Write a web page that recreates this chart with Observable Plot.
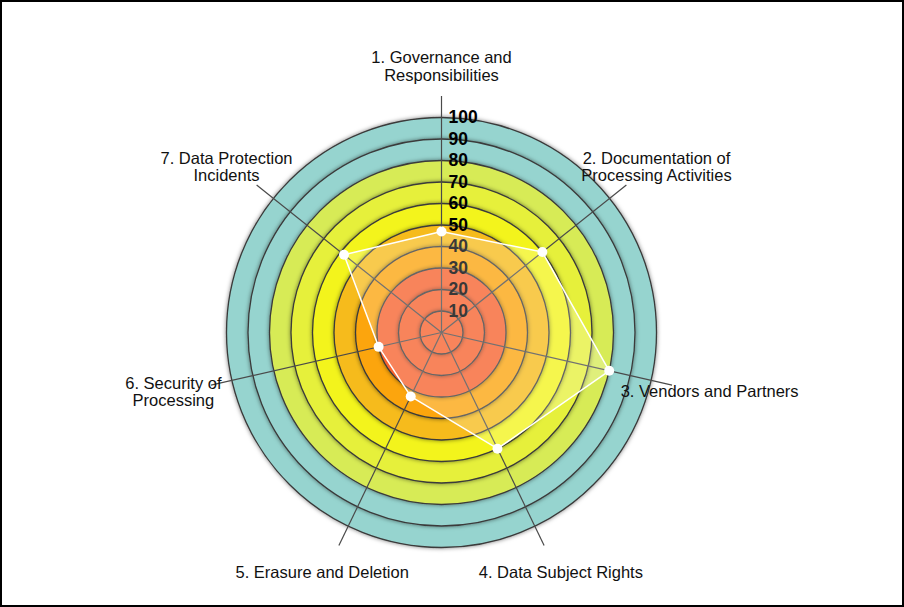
<!DOCTYPE html>
<html><head><meta charset="utf-8">
<script src="https://cdn.jsdelivr.net/npm/d3@7"></script>
<script src="https://cdn.jsdelivr.net/npm/@observablehq/plot@0.6"></script>
<style>
body{margin:0;background:#fff;}
#chart svg{display:block;outline:2px solid #000;outline-offset:-2px;}
</style></head><body><div id="chart"></div>
<script>
const categories = [
  "1. Governance and\nResponsibilities",
  "2. Documentation of\nProcessing Activities",
  "3. Vendors and Partners",
  "4. Data Subject Rights",
  "5. Erasure and Deletion",
  "6. Security of\nProcessing",
  "7. Data Protection\nIncidents"
];
const scores = [47, 60, 80, 60, 33, 30, 58];
const ringTicks = [10, 20, 30, 40, 50, 60, 70, 80, 90, 100];
const ringColors = ["#f7622f", "#f7622f", "#f7622f", "#fca50c", "#f6bb1a", "#f3f41c", "#e6f03a", "#d7eb57", "#96d4cf", "#96d4cf"];
const tickLabels = ["10", "20", "30", "40", "50", "60", "70", "80", "90", "100"];

const W = 904, H = 607, cx = 441, cy = 332, R = 215, maxV = 100;
const k = R / maxV;
const n = categories.length;
const rows = categories.map((name, i) => ({name, value: scores[i], angle: i * 2 * Math.PI / n}));
const rings = ringTicks.map((v, i) => ({v, color: ringColors[i], label: tickLabels[i]}));
const spokeLen = 110;

const svg = Plot.plot({
  width: W, height: H, margin: 0,
  x: {domain: [-cx / k, (W - cx) / k], axis: null},
  y: {domain: [-(H - cy) / k, cy / k], axis: null},
  r: {type: "linear", domain: [0, maxV], range: [0, R]},
  style: {fontFamily: "'Liberation Sans', Arial, sans-serif", background: "white"},
  marks: [
    Plot.dot(rings, {x: () => 0, y: () => 0, r: "v", fill: "color", stroke: "#3a3a3a", strokeWidth: 1.3}),
    Plot.link(rows, {x1: () => 0, y1: () => 0, x2: d => spokeLen * Math.sin(d.angle), y2: d => spokeLen * Math.cos(d.angle), stroke: "#4a4a4a", strokeWidth: 1.2}),
    Plot.text(rings, {x: () => 0, y: "v", text: "label", dx: 7, textAnchor: "start", lineAnchor: "middle", fontWeight: "bold", fontSize: 17.5, fill: "#000"}),
    Plot.line(rows, {x: d => d.value * Math.sin(d.angle), y: d => d.value * Math.cos(d.angle), curve: "linear-closed", fill: "white", fillOpacity: 0.22, stroke: "white", strokeWidth: 1.5}),
    Plot.dot(rows, {x: d => d.value * Math.sin(d.angle), y: d => d.value * Math.cos(d.angle), r: 5, fill: "white", stroke: "none"}),
    Plot.text(rows, {x: d => (275 / k) * Math.sin(d.angle), y: d => (266 / k) * Math.cos(d.angle), text: "name", textAnchor: "middle", lineAnchor: "middle", fontSize: 16.5, lineHeight: 1.05, fill: "#111"})
  ]
});

const s = d3.select(svg);
const defs = s.insert("defs", ":first-child");
const f = defs.append("filter").attr("id", "ringShadow").attr("filterUnits", "userSpaceOnUse")
  .attr("x", 0).attr("y", 0).attr("width", W).attr("height", H);
f.append("feDropShadow").attr("dx", 0).attr("dy", 0).attr("stdDeviation", 2.2).attr("flood-color", "#000").attr("flood-opacity", 0.5);
s.selectAll("circle").filter(function() { return this.hasAttribute("fill"); }).attr("filter", "url(#ringShadow)");

document.getElementById("chart").appendChild(svg);
</script></body></html>
